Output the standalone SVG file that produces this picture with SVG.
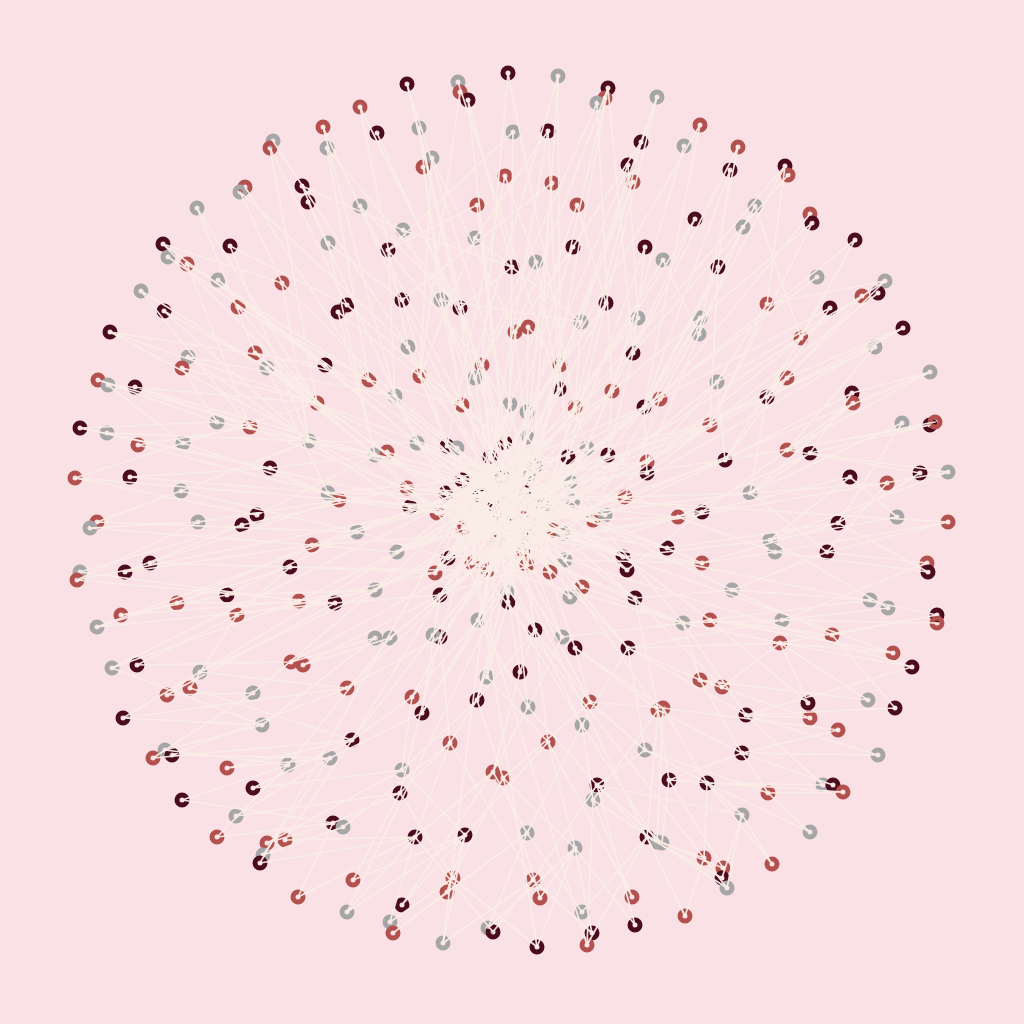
<svg xmlns="http://www.w3.org/2000/svg" width="1024" height="1024" viewBox="0 0 1024 1024">
<style>
circle{fill:none;stroke-width:5}
.d{stroke:#4b0c1d}
.r{stroke:#b3514f}
.g{stroke:#a6a6a6}
#edges path{fill:none;stroke:#faede7;stroke-width:1.7;stroke-opacity:0.95;stroke-linecap:round}
</style>
<rect width="1024" height="1024" fill="#fae1e6"/>
<g id="nodes">
<g id="n1"><circle class="d" cx="508" cy="73" r="5"/></g>
<g id="n2"><circle class="g" cx="558" cy="76" r="5"/></g>
<g id="n3"><circle class="d" cx="407" cy="84" r="5"/></g>
<g id="n4"><circle class="g" cx="458" cy="82" r="5"/></g>
<g id="n5"><circle class="r" cx="460" cy="92" r="5"/></g>
<g id="n6"><circle class="d" cx="468" cy="100" r="5"/></g>
<g id="n7"><circle class="d" cx="608" cy="88" r="5"/></g>
<g id="n8"><circle class="r" cx="605" cy="98" r="5"/></g>
<g id="n9"><circle class="g" cx="597" cy="103" r="5"/></g>
<g id="n10"><circle class="g" cx="657" cy="97" r="5"/></g>
<g id="n11"><circle class="r" cx="360" cy="107" r="5"/></g>
<g id="n12"><circle class="r" cx="700" cy="125" r="5"/></g>
<g id="n13"><circle class="r" cx="323" cy="127" r="5"/></g>
<g id="n14"><circle class="d" cx="377" cy="133" r="5"/></g>
<g id="n15"><circle class="g" cx="419" cy="128" r="5"/></g>
<g id="n16"><circle class="g" cx="513" cy="132" r="5"/></g>
<g id="n17"><circle class="d" cx="548" cy="131" r="5"/></g>
<g id="n18"><circle class="r" cx="738" cy="147" r="5"/></g>
<g id="n19"><circle class="d" cx="641" cy="142" r="5"/></g>
<g id="n20"><circle class="g" cx="684" cy="146" r="5"/></g>
<g id="n21"><circle class="g" cx="273" cy="141" r="5"/></g>
<g id="n22"><circle class="r" cx="270" cy="148" r="5"/></g>
<g id="n23"><circle class="g" cx="327" cy="148" r="5"/></g>
<g id="n24"><circle class="g" cx="432" cy="158" r="5"/></g>
<g id="n25"><circle class="r" cx="423" cy="167" r="5"/></g>
<g id="n26"><circle class="d" cx="628" cy="165" r="5"/></g>
<g id="n27"><circle class="r" cx="633" cy="182" r="5"/></g>
<g id="n28"><circle class="r" cx="505" cy="176" r="5"/></g>
<g id="n29"><circle class="r" cx="552" cy="183" r="5"/></g>
<g id="n30"><circle class="d" cx="730" cy="170" r="5"/></g>
<g id="n31"><circle class="d" cx="785" cy="166" r="5"/></g>
<g id="n32"><circle class="r" cx="788" cy="175" r="5"/></g>
<g id="n33"><circle class="d" cx="302" cy="186" r="5"/></g>
<g id="n34"><circle class="r" cx="245" cy="187" r="5"/></g>
<g id="n35"><circle class="g" cx="240" cy="192" r="5"/></g>
<g id="n36"><circle class="d" cx="308" cy="202" r="5"/></g>
<g id="n37"><circle class="g" cx="197" cy="208" r="5"/></g>
<g id="n38"><circle class="g" cx="360" cy="206" r="5"/></g>
<g id="n39"><circle class="r" cx="477" cy="205" r="5"/></g>
<g id="n40"><circle class="r" cx="577" cy="205" r="5"/></g>
<g id="n41"><circle class="d" cx="695" cy="219" r="5"/></g>
<g id="n42"><circle class="g" cx="755" cy="206" r="5"/></g>
<g id="n43"><circle class="r" cx="810" cy="214" r="5"/></g>
<g id="n44"><circle class="d" cx="812" cy="223" r="5"/></g>
<g id="n45"><circle class="g" cx="743" cy="227" r="5"/></g>
<g id="n46"><circle class="g" cx="403" cy="230" r="5"/></g>
<g id="n47"><circle class="g" cx="475" cy="238" r="5"/></g>
<g id="n48"><circle class="g" cx="328" cy="243" r="5"/></g>
<g id="n49"><circle class="d" cx="163" cy="244" r="5"/></g>
<g id="n50"><circle class="d" cx="230" cy="246" r="5"/></g>
<g id="n51"><circle class="g" cx="168" cy="257" r="5"/></g>
<g id="n52"><circle class="r" cx="187" cy="264" r="5"/></g>
<g id="n53"><circle class="d" cx="388" cy="250" r="5"/></g>
<g id="n54"><circle class="d" cx="573" cy="247" r="5"/></g>
<g id="n55"><circle class="d" cx="645" cy="247" r="5"/></g>
<g id="n56"><circle class="d" cx="855" cy="240" r="5"/></g>
<g id="n57"><circle class="d" cx="512" cy="267" r="5"/></g>
<g id="n58"><circle class="g" cx="536" cy="262" r="5"/></g>
<g id="n59"><circle class="g" cx="663" cy="260" r="5"/></g>
<g id="n60"><circle class="d" cx="718" cy="267" r="5"/></g>
<g id="n61"><circle class="g" cx="218" cy="280" r="5"/></g>
<g id="n62"><circle class="r" cx="282" cy="283" r="5"/></g>
<g id="n63"><circle class="g" cx="885" cy="281" r="5"/></g>
<g id="n64"><circle class="g" cx="817" cy="277" r="5"/></g>
<g id="n65"><circle class="g" cx="141" cy="291" r="5"/></g>
<g id="n66"><circle class="r" cx="862" cy="296" r="5"/></g>
<g id="n67"><circle class="d" cx="878" cy="293" r="5"/></g>
<g id="n68"><circle class="d" cx="402" cy="300" r="5"/></g>
<g id="n69"><circle class="g" cx="441" cy="300" r="5"/></g>
<g id="n70"><circle class="d" cx="460" cy="308" r="5"/></g>
<g id="n71"><circle class="d" cx="606" cy="303" r="5"/></g>
<g id="n72"><circle class="g" cx="638" cy="318" r="5"/></g>
<g id="n73"><circle class="g" cx="700" cy="318" r="5"/></g>
<g id="n74"><circle class="g" cx="699" cy="334" r="5"/></g>
<g id="n75"><circle class="r" cx="767" cy="304" r="5"/></g>
<g id="n76"><circle class="d" cx="830" cy="308" r="5"/></g>
<g id="n77"><circle class="d" cx="347" cy="305" r="5"/></g>
<g id="n78"><circle class="d" cx="338" cy="312" r="5"/></g>
<g id="n79"><circle class="r" cx="238" cy="307" r="5"/></g>
<g id="n80"><circle class="d" cx="164" cy="311" r="5"/></g>
<g id="n81"><circle class="r" cx="515" cy="332" r="5"/></g>
<g id="n82"><circle class="r" cx="528" cy="327" r="5"/></g>
<g id="n83"><circle class="g" cx="581" cy="322" r="5"/></g>
<g id="n84"><circle class="d" cx="110" cy="332" r="5"/></g>
<g id="n85"><circle class="d" cx="903" cy="328" r="5"/></g>
<g id="n86"><circle class="r" cx="801" cy="338" r="5"/></g>
<g id="n87"><circle class="g" cx="875" cy="347" r="5"/></g>
<g id="n88"><circle class="g" cx="408" cy="347" r="5"/></g>
<g id="n89"><circle class="d" cx="633" cy="353" r="5"/></g>
<g id="n90"><circle class="r" cx="255" cy="353" r="5"/></g>
<g id="n91"><circle class="g" cx="188" cy="357" r="5"/></g>
<g id="n92"><circle class="r" cx="182" cy="368" r="5"/></g>
<g id="n93"><circle class="d" cx="325" cy="365" r="5"/></g>
<g id="n94"><circle class="g" cx="267" cy="368" r="5"/></g>
<g id="n95"><circle class="r" cx="369" cy="380" r="5"/></g>
<g id="n96"><circle class="r" cx="420" cy="376" r="5"/></g>
<g id="n97"><circle class="r" cx="482" cy="365" r="5"/></g>
<g id="n98"><circle class="g" cx="475" cy="378" r="5"/></g>
<g id="n99"><circle class="r" cx="560" cy="365" r="5"/></g>
<g id="n100"><circle class="g" cx="717" cy="382" r="5"/></g>
<g id="n101"><circle class="r" cx="787" cy="378" r="5"/></g>
<g id="n102"><circle class="g" cx="930" cy="372" r="5"/></g>
<g id="n103"><circle class="d" cx="559" cy="389" r="5"/></g>
<g id="n104"><circle class="r" cx="612" cy="391" r="5"/></g>
<g id="n105"><circle class="r" cx="317" cy="403" r="5"/></g>
<g id="n106"><circle class="g" cx="395" cy="396" r="5"/></g>
<g id="n107"><circle class="r" cx="462" cy="405" r="5"/></g>
<g id="n108"><circle class="g" cx="510" cy="404" r="5"/></g>
<g id="n109"><circle class="g" cx="527" cy="412" r="5"/></g>
<g id="n110"><circle class="r" cx="575" cy="407" r="5"/></g>
<g id="n111"><circle class="d" cx="644" cy="407" r="5"/></g>
<g id="n112"><circle class="r" cx="660" cy="399" r="5"/></g>
<g id="n113"><circle class="d" cx="767" cy="397" r="5"/></g>
<g id="n114"><circle class="d" cx="852" cy="393" r="5"/></g>
<g id="n115"><circle class="r" cx="853" cy="403" r="5"/></g>
<g id="n116"><circle class="r" cx="98" cy="380" r="5"/></g>
<g id="n117"><circle class="g" cx="108" cy="385" r="5"/></g>
<g id="n118"><circle class="d" cx="135" cy="387" r="5"/></g>
<g id="n119"><circle class="d" cx="80" cy="428" r="5"/></g>
<g id="n120"><circle class="g" cx="107" cy="433" r="5"/></g>
<g id="n121"><circle class="r" cx="138" cy="445" r="5"/></g>
<g id="n122"><circle class="g" cx="183" cy="443" r="5"/></g>
<g id="n123"><circle class="g" cx="217" cy="422" r="5"/></g>
<g id="n124"><circle class="r" cx="250" cy="427" r="5"/></g>
<g id="n125"><circle class="g" cx="309" cy="441" r="5"/></g>
<g id="n126"><circle class="d" cx="270" cy="468" r="5"/></g>
<g id="n127"><circle class="r" cx="75" cy="478" r="5"/></g>
<g id="n128"><circle class="d" cx="130" cy="477" r="5"/></g>
<g id="n129"><circle class="g" cx="181" cy="491" r="5"/></g>
<g id="n130"><circle class="g" cx="328" cy="493" r="5"/></g>
<g id="n131"><circle class="r" cx="339" cy="500" r="5"/></g>
<g id="n132"><circle class="r" cx="97" cy="522" r="5"/></g>
<g id="n133"><circle class="g" cx="90" cy="528" r="5"/></g>
<g id="n134"><circle class="g" cx="198" cy="522" r="5"/></g>
<g id="n135"><circle class="d" cx="242" cy="525" r="5"/></g>
<g id="n136"><circle class="d" cx="257" cy="515" r="5"/></g>
<g id="n137"><circle class="g" cx="357" cy="532" r="5"/></g>
<g id="n138"><circle class="r" cx="312" cy="545" r="5"/></g>
<g id="n139"><circle class="d" cx="125" cy="572" r="5"/></g>
<g id="n140"><circle class="d" cx="150" cy="563" r="5"/></g>
<g id="n141"><circle class="g" cx="80" cy="572" r="5"/></g>
<g id="n142"><circle class="r" cx="77" cy="580" r="5"/></g>
<g id="n143"><circle class="d" cx="290" cy="567" r="5"/></g>
<g id="n144"><circle class="d" cx="227" cy="595" r="5"/></g>
<g id="n145"><circle class="r" cx="177" cy="603" r="5"/></g>
<g id="n146"><circle class="r" cx="237" cy="615" r="5"/></g>
<g id="n147"><circle class="r" cx="299" cy="601" r="5"/></g>
<g id="n148"><circle class="d" cx="335" cy="603" r="5"/></g>
<g id="n149"><circle class="r" cx="121" cy="615" r="5"/></g>
<g id="n150"><circle class="g" cx="97" cy="627" r="5"/></g>
<g id="n151"><circle class="g" cx="417" cy="443" r="5"/></g>
<g id="n152"><circle class="d" cx="447" cy="446" r="5"/></g>
<g id="n153"><circle class="g" cx="457" cy="448" r="5"/></g>
<g id="n154"><circle class="d" cx="505" cy="443" r="5"/></g>
<g id="n155"><circle class="g" cx="527" cy="437" r="5"/></g>
<g id="n156"><circle class="g" cx="375" cy="455" r="5"/></g>
<g id="n157"><circle class="r" cx="387" cy="452" r="5"/></g>
<g id="n158"><circle class="d" cx="490" cy="457" r="5"/></g>
<g id="n159"><circle class="d" cx="568" cy="457" r="5"/></g>
<g id="n160"><circle class="g" cx="587" cy="448" r="5"/></g>
<g id="n161"><circle class="d" cx="608" cy="455" r="5"/></g>
<g id="n162"><circle class="r" cx="647" cy="462" r="5"/></g>
<g id="n163"><circle class="d" cx="647" cy="473" r="5"/></g>
<g id="n164"><circle class="g" cx="535" cy="466" r="5"/></g>
<g id="n165"><circle class="g" cx="528" cy="475" r="5"/></g>
<g id="n166"><circle class="g" cx="570" cy="482" r="5"/></g>
<g id="n167"><circle class="g" cx="573" cy="500" r="5"/></g>
<g id="n168"><circle class="d" cx="462" cy="480" r="5"/></g>
<g id="n169"><circle class="d" cx="502" cy="477" r="5"/></g>
<g id="n170"><circle class="d" cx="446" cy="493" r="5"/></g>
<g id="n171"><circle class="d" cx="480" cy="495" r="5"/></g>
<g id="n172"><circle class="r" cx="407" cy="488" r="5"/></g>
<g id="n173"><circle class="d" cx="410" cy="507" r="5"/></g>
<g id="n174"><circle class="r" cx="437" cy="513" r="5"/></g>
<g id="n175"><circle class="r" cx="463" cy="528" r="5"/></g>
<g id="n176"><circle class="d" cx="495" cy="505" r="5"/></g>
<g id="n177"><circle class="r" cx="507" cy="500" r="5"/></g>
<g id="n178"><circle class="d" cx="515" cy="515" r="5"/></g>
<g id="n179"><circle class="r" cx="521" cy="508" r="5"/></g>
<g id="n180"><circle class="g" cx="530" cy="523" r="5"/></g>
<g id="n181"><circle class="d" cx="525" cy="490" r="5"/></g>
<g id="n182"><circle class="r" cx="500" cy="520" r="5"/></g>
<g id="n183"><circle class="g" cx="543" cy="505" r="5"/></g>
<g id="n184"><circle class="r" cx="593" cy="520" r="5"/></g>
<g id="n185"><circle class="g" cx="605" cy="515" r="5"/></g>
<g id="n186"><circle class="r" cx="553" cy="530" r="5"/></g>
<g id="n187"><circle class="g" cx="563" cy="533" r="5"/></g>
<g id="n188"><circle class="r" cx="497" cy="540" r="5"/></g>
<g id="n189"><circle class="r" cx="523" cy="535" r="5"/></g>
<g id="n190"><circle class="r" cx="523" cy="550" r="5"/></g>
<g id="n191"><circle class="r" cx="527" cy="565" r="5"/></g>
<g id="n192"><circle class="d" cx="448" cy="558" r="5"/></g>
<g id="n193"><circle class="r" cx="472" cy="563" r="5"/></g>
<g id="n194"><circle class="r" cx="488" cy="570" r="5"/></g>
<g id="n195"><circle class="r" cx="435" cy="573" r="5"/></g>
<g id="n196"><circle class="r" cx="550" cy="572" r="5"/></g>
<g id="n197"><circle class="g" cx="565" cy="560" r="5"/></g>
<g id="n198"><circle class="d" cx="623" cy="557" r="5"/></g>
<g id="n199"><circle class="d" cx="627" cy="570" r="5"/></g>
<g id="n200"><circle class="g" cx="397" cy="552" r="5"/></g>
<g id="n201"><circle class="g" cx="375" cy="590" r="5"/></g>
<g id="n202"><circle class="d" cx="440" cy="595" r="5"/></g>
<g id="n203"><circle class="g" cx="507" cy="592" r="5"/></g>
<g id="n204"><circle class="d" cx="508" cy="602" r="5"/></g>
<g id="n205"><circle class="r" cx="582" cy="587" r="5"/></g>
<g id="n206"><circle class="g" cx="570" cy="597" r="5"/></g>
<g id="n207"><circle class="d" cx="635" cy="598" r="5"/></g>
<g id="n208"><circle class="g" cx="478" cy="620" r="5"/></g>
<g id="n209"><circle class="g" cx="375" cy="638" r="5"/></g>
<g id="n210"><circle class="g" cx="390" cy="638" r="5"/></g>
<g id="n211"><circle class="d" cx="440" cy="637" r="5"/></g>
<g id="n212"><circle class="g" cx="433" cy="635" r="5"/></g>
<g id="n213"><circle class="d" cx="535" cy="630" r="5"/></g>
<g id="n214"><circle class="g" cx="562" cy="637" r="5"/></g>
<g id="n215"><circle class="d" cx="575" cy="648" r="5"/></g>
<g id="n216"><circle class="d" cx="628" cy="648" r="5"/></g>
<g id="n217"><circle class="r" cx="625" cy="497" r="5"/></g>
<g id="n218"><circle class="r" cx="710" cy="425" r="5"/></g>
<g id="n219"><circle class="g" cx="902" cy="423" r="5"/></g>
<g id="n220"><circle class="d" cx="930" cy="425" r="5"/></g>
<g id="n221"><circle class="r" cx="935" cy="422" r="5"/></g>
<g id="n222"><circle class="r" cx="787" cy="450" r="5"/></g>
<g id="n223"><circle class="d" cx="810" cy="453" r="5"/></g>
<g id="n224"><circle class="d" cx="725" cy="460" r="5"/></g>
<g id="n225"><circle class="d" cx="850" cy="477" r="5"/></g>
<g id="n226"><circle class="r" cx="887" cy="483" r="5"/></g>
<g id="n227"><circle class="d" cx="920" cy="473" r="5"/></g>
<g id="n228"><circle class="g" cx="948" cy="472" r="5"/></g>
<g id="n229"><circle class="g" cx="750" cy="493" r="5"/></g>
<g id="n230"><circle class="r" cx="678" cy="517" r="5"/></g>
<g id="n231"><circle class="d" cx="702" cy="512" r="5"/></g>
<g id="n232"><circle class="g" cx="897" cy="517" r="5"/></g>
<g id="n233"><circle class="d" cx="838" cy="523" r="5"/></g>
<g id="n234"><circle class="r" cx="948" cy="522" r="5"/></g>
<g id="n235"><circle class="d" cx="667" cy="548" r="5"/></g>
<g id="n236"><circle class="g" cx="770" cy="540" r="5"/></g>
<g id="n237"><circle class="g" cx="775" cy="552" r="5"/></g>
<g id="n238"><circle class="d" cx="827" cy="552" r="5"/></g>
<g id="n239"><circle class="r" cx="702" cy="563" r="5"/></g>
<g id="n240"><circle class="r" cx="927" cy="563" r="5"/></g>
<g id="n241"><circle class="d" cx="928" cy="572" r="5"/></g>
<g id="n242"><circle class="g" cx="732" cy="590" r="5"/></g>
<g id="n243"><circle class="g" cx="870" cy="600" r="5"/></g>
<g id="n244"><circle class="g" cx="888" cy="608" r="5"/></g>
<g id="n245"><circle class="g" cx="683" cy="623" r="5"/></g>
<g id="n246"><circle class="r" cx="710" cy="620" r="5"/></g>
<g id="n247"><circle class="g" cx="782" cy="620" r="5"/></g>
<g id="n248"><circle class="d" cx="937" cy="615" r="5"/></g>
<g id="n249"><circle class="r" cx="937" cy="623" r="5"/></g>
<g id="n250"><circle class="r" cx="832" cy="635" r="5"/></g>
<g id="n251"><circle class="r" cx="780" cy="643" r="5"/></g>
<g id="n252"><circle class="r" cx="893" cy="653" r="5"/></g>
<g id="n253"><circle class="g" cx="112" cy="668" r="5"/></g>
<g id="n254"><circle class="d" cx="137" cy="665" r="5"/></g>
<g id="n255"><circle class="g" cx="200" cy="672" r="5"/></g>
<g id="n256"><circle class="r" cx="190" cy="688" r="5"/></g>
<g id="n257"><circle class="r" cx="167" cy="695" r="5"/></g>
<g id="n258"><circle class="r" cx="291" cy="662" r="5"/></g>
<g id="n259"><circle class="r" cx="303" cy="665" r="5"/></g>
<g id="n260"><circle class="g" cx="253" cy="693" r="5"/></g>
<g id="n261"><circle class="r" cx="347" cy="688" r="5"/></g>
<g id="n262"><circle class="d" cx="123" cy="718" r="5"/></g>
<g id="n263"><circle class="g" cx="262" cy="725" r="5"/></g>
<g id="n264"><circle class="d" cx="352" cy="740" r="5"/></g>
<g id="n265"><circle class="g" cx="165" cy="750" r="5"/></g>
<g id="n266"><circle class="d" cx="172" cy="755" r="5"/></g>
<g id="n267"><circle class="r" cx="153" cy="758" r="5"/></g>
<g id="n268"><circle class="r" cx="227" cy="768" r="5"/></g>
<g id="n269"><circle class="g" cx="288" cy="765" r="5"/></g>
<g id="n270"><circle class="g" cx="330" cy="758" r="5"/></g>
<g id="n271"><circle class="d" cx="253" cy="788" r="5"/></g>
<g id="n272"><circle class="d" cx="182" cy="800" r="5"/></g>
<g id="n273"><circle class="g" cx="236" cy="816" r="5"/></g>
<g id="n274"><circle class="r" cx="217" cy="837" r="5"/></g>
<g id="n275"><circle class="d" cx="333" cy="823" r="5"/></g>
<g id="n276"><circle class="g" cx="343" cy="827" r="5"/></g>
<g id="n277"><circle class="r" cx="267" cy="843" r="5"/></g>
<g id="n278"><circle class="r" cx="285" cy="840" r="5"/></g>
<g id="n279"><circle class="g" cx="263" cy="855" r="5"/></g>
<g id="n280"><circle class="d" cx="260" cy="863" r="5"/></g>
<g id="n281"><circle class="r" cx="353" cy="880" r="5"/></g>
<g id="n282"><circle class="r" cx="298" cy="897" r="5"/></g>
<g id="n283"><circle class="g" cx="347" cy="912" r="5"/></g>
<g id="n284"><circle class="g" cx="487" cy="677" r="5"/></g>
<g id="n285"><circle class="d" cx="520" cy="672" r="5"/></g>
<g id="n286"><circle class="r" cx="412" cy="697" r="5"/></g>
<g id="n287"><circle class="d" cx="422" cy="713" r="5"/></g>
<g id="n288"><circle class="d" cx="477" cy="700" r="5"/></g>
<g id="n289"><circle class="g" cx="528" cy="707" r="5"/></g>
<g id="n290"><circle class="r" cx="590" cy="702" r="5"/></g>
<g id="n291"><circle class="g" cx="582" cy="725" r="5"/></g>
<g id="n292"><circle class="r" cx="658" cy="710" r="5"/></g>
<g id="n293"><circle class="r" cx="450" cy="743" r="5"/></g>
<g id="n294"><circle class="r" cx="548" cy="742" r="5"/></g>
<g id="n295"><circle class="g" cx="645" cy="750" r="5"/></g>
<g id="n296"><circle class="g" cx="402" cy="770" r="5"/></g>
<g id="n297"><circle class="d" cx="400" cy="793" r="5"/></g>
<g id="n298"><circle class="r" cx="493" cy="772" r="5"/></g>
<g id="n299"><circle class="r" cx="503" cy="778" r="5"/></g>
<g id="n300"><circle class="d" cx="597" cy="785" r="5"/></g>
<g id="n301"><circle class="g" cx="593" cy="800" r="5"/></g>
<g id="n302"><circle class="d" cx="415" cy="837" r="5"/></g>
<g id="n303"><circle class="d" cx="465" cy="835" r="5"/></g>
<g id="n304"><circle class="g" cx="527" cy="833" r="5"/></g>
<g id="n305"><circle class="g" cx="575" cy="848" r="5"/></g>
<g id="n306"><circle class="d" cx="647" cy="837" r="5"/></g>
<g id="n307"><circle class="g" cx="657" cy="842" r="5"/></g>
<g id="n308"><circle class="r" cx="453" cy="878" r="5"/></g>
<g id="n309"><circle class="r" cx="447" cy="892" r="5"/></g>
<g id="n310"><circle class="r" cx="533" cy="880" r="5"/></g>
<g id="n311"><circle class="r" cx="540" cy="898" r="5"/></g>
<g id="n312"><circle class="r" cx="632" cy="897" r="5"/></g>
<g id="n313"><circle class="d" cx="402" cy="905" r="5"/></g>
<g id="n314"><circle class="g" cx="390" cy="922" r="5"/></g>
<g id="n315"><circle class="r" cx="393" cy="933" r="5"/></g>
<g id="n316"><circle class="g" cx="443" cy="943" r="5"/></g>
<g id="n317"><circle class="g" cx="488" cy="928" r="5"/></g>
<g id="n318"><circle class="d" cx="493" cy="932" r="5"/></g>
<g id="n319"><circle class="d" cx="537" cy="947" r="5"/></g>
<g id="n320"><circle class="g" cx="582" cy="912" r="5"/></g>
<g id="n321"><circle class="d" cx="592" cy="933" r="5"/></g>
<g id="n322"><circle class="r" cx="587" cy="945" r="5"/></g>
<g id="n323"><circle class="d" cx="635" cy="925" r="5"/></g>
<g id="n324"><circle class="r" cx="700" cy="680" r="5"/></g>
<g id="n325"><circle class="r" cx="722" cy="687" r="5"/></g>
<g id="n326"><circle class="d" cx="912" cy="667" r="5"/></g>
<g id="n327"><circle class="r" cx="663" cy="708" r="5"/></g>
<g id="n328"><circle class="d" cx="746" cy="715" r="5"/></g>
<g id="n329"><circle class="d" cx="808" cy="703" r="5"/></g>
<g id="n330"><circle class="r" cx="810" cy="718" r="5"/></g>
<g id="n331"><circle class="r" cx="838" cy="730" r="5"/></g>
<g id="n332"><circle class="g" cx="868" cy="700" r="5"/></g>
<g id="n333"><circle class="d" cx="895" cy="708" r="5"/></g>
<g id="n334"><circle class="d" cx="742" cy="753" r="5"/></g>
<g id="n335"><circle class="g" cx="878" cy="755" r="5"/></g>
<g id="n336"><circle class="d" cx="669" cy="780" r="5"/></g>
<g id="n337"><circle class="d" cx="707" cy="783" r="5"/></g>
<g id="n338"><circle class="r" cx="768" cy="793" r="5"/></g>
<g id="n339"><circle class="g" cx="823" cy="785" r="5"/></g>
<g id="n340"><circle class="d" cx="833" cy="785" r="5"/></g>
<g id="n341"><circle class="r" cx="843" cy="792" r="5"/></g>
<g id="n342"><circle class="g" cx="742" cy="815" r="5"/></g>
<g id="n343"><circle class="g" cx="810" cy="832" r="5"/></g>
<g id="n344"><circle class="g" cx="662" cy="843" r="5"/></g>
<g id="n345"><circle class="r" cx="704" cy="858" r="5"/></g>
<g id="n346"><circle class="r" cx="723" cy="868" r="5"/></g>
<g id="n347"><circle class="d" cx="722" cy="878" r="5"/></g>
<g id="n348"><circle class="g" cx="727" cy="888" r="5"/></g>
<g id="n349"><circle class="r" cx="772" cy="864" r="5"/></g>
<g id="n350"><circle class="r" cx="685" cy="916" r="5"/></g>
</g>
<g id="edges">
<path d="M508 73L482 365M508 73L575 407M558 76L462 405M558 76L560 365M407 84L510 404M407 84L460 308M458 82L559 389M460 92L420 376M468 100L512 267M468 100L505 443M608 88L515 332M608 88L633 353M605 98L527 437M597 103L475 378M597 103L612 391M657 97L606 303M657 97L581 322M360 107L408 347M360 107L460 308M700 125L560 365M700 125L644 407M323 127L402 300M323 127L395 396M377 133L482 365M419 128L441 300M419 128L475 378M513 132L388 250M513 132L510 404M548 131L559 389M548 131L475 238M738 147L633 353M738 147L699 334M641 142L575 407M641 142L573 247M684 146L612 391M273 141L408 347M270 148L317 403M270 148L347 305M327 148L460 308M327 148L369 380M432 158L420 376M432 158L515 332M423 167L462 405M628 165L527 412M628 165L638 318M633 182L560 365M505 176L447 446M505 176L536 262M552 183L527 437M552 183L402 300M730 170L644 407M730 170L718 267M785 166L660 399M785 166L767 304M788 175L633 353M302 186L395 396M302 186L403 230M245 187L369 380M240 192L408 347M240 192L282 283M308 202L417 443M197 208L317 403M197 208L255 353M360 206L462 405M360 206L460 308M477 205L505 443M477 205L388 250M577 205L510 404M577 205L606 303M695 219L575 407M695 219L612 391M755 206L644 407M755 206L801 338M810 214L660 399M812 223L710 425M812 223L700 318M743 227L647 462M403 230L475 378M403 230L512 267M475 238L420 376M475 238L581 322M328 243L375 455M328 243L402 300M163 244L317 403M163 244L282 283M230 246L309 441M230 246L347 305M168 257L325 365M187 264L369 380M187 264L250 427M388 250L482 365M388 250L395 396M573 247L505 443M573 247L515 332M645 247L568 457M645 247L633 353M855 240L767 397M855 240L801 338M512 267L510 404M512 267L460 308M536 262L559 389M536 262L482 365M663 260L575 407M663 260L699 334M718 267L710 425M718 267L644 407M218 280L417 443M218 280L325 365M282 283L395 396M282 283L309 441M885 281L767 397M885 281L767 304M817 277L644 407M141 291L250 427M141 291L267 368M862 296L787 378M862 296L717 382M878 293L710 425M402 300L447 446M441 300L462 405M441 300L581 322M460 308L505 443M606 303L527 412M606 303L568 457M638 318L587 448M700 318L644 407M700 318L612 391M699 334L647 462M767 304L710 425M767 304L717 382M830 308L767 397M830 308L660 399M347 305L462 405M338 312L420 376M338 312L375 455M238 307L317 403M238 307L369 380M164 311L309 441M164 311L267 368M515 332L527 437M528 327L527 412M528 327L560 365M581 322L575 407M110 332L317 403M110 332L325 365M903 328L767 397M903 328L787 378M801 338L725 460M875 347L787 450M875 347L767 397M408 347L447 446M633 353L608 455M255 353L375 455M255 353L369 380M188 357L309 441M188 357L395 396M182 368L317 403M182 368L217 422M325 365L417 443M267 368L375 455M267 368L328 493M369 380L462 405M420 376L462 480M482 365L535 466M482 365L490 457M475 378L505 443M560 365L535 466M560 365L568 457M717 382L647 462M717 382L725 460M787 378L725 460M787 378L710 425M930 372L787 450M930 372L852 393M559 389L528 475M612 391L570 482M612 391L608 455M317 403L407 488M395 396L446 493M395 396L417 443M462 405L502 477M510 404L525 490M510 404L490 457M527 412L495 505M575 407L543 505M575 407L587 448M644 407L573 500M644 407L647 473M660 399L625 497M767 397L750 493M767 397L647 462M852 393L810 453M852 393L725 460M853 403L750 493M853 403L787 450"/>
<path d="M98 380L309 441M98 380L217 422M108 385L183 443M108 385L317 403M135 387L250 427M135 387L375 455M80 428L270 468M80 428L217 422M107 433L309 441M138 445L328 493M138 445L250 427M183 443L328 493M183 443L317 403M217 422L375 455M250 427L407 488M309 441L410 507M309 441L417 443M270 468L339 500M270 468L375 455M75 478L257 515M75 478L183 443M130 477L328 493M130 477L270 468M181 491L357 532M181 491L309 441M328 493L410 507M339 500L437 513M97 522L357 532M97 522L181 491M90 528L312 545M90 528L198 522M198 522L339 500M242 525L407 488M257 515L375 455M357 532L448 558M312 545L397 552M125 572L312 545M125 572L242 525M150 563L290 567M150 563L339 500M80 572L242 525M80 572L299 601M77 580L335 603M77 580L198 522M290 567L435 573M227 595L357 532M227 595L375 590M177 603L335 603M177 603L312 545M237 615L375 590M237 615L290 567M299 601L397 552M299 601L435 573M335 603L440 595M121 615L299 601M121 615L227 595M97 627L290 567M97 627L335 603"/>
<path d="M417 443L495 505M457 448L515 515M527 437L495 505M375 455L437 513M490 457L521 508M587 448L515 515M647 462L543 505M535 466L500 520M570 482L495 505M462 480L515 515M446 493L521 508M407 488L507 500M437 513L515 515M593 520L495 505M553 530L495 505M497 540L521 508M523 550L507 500M448 558L515 515M488 570L507 500M550 572L495 505M623 557L530 523M397 552L521 508M440 595L507 500M508 602L521 508M570 597L525 490M478 620L521 508M390 638L530 523M433 635L543 505M562 637L495 505M628 648L515 515"/>
<path d="M710 425L573 500M710 425L647 473M902 423L750 493M902 423L838 523M930 425L725 460M930 425L810 453M935 422L787 450M787 450L702 512M810 453L678 517M810 453L750 493M725 460L605 515M850 477L702 512M850 477L770 540M887 483L750 493M887 483L827 552M920 473L787 450M920 473L838 523M948 472L770 540M948 472L810 453M750 493L625 497M678 517L593 520M702 512L627 570M897 517L770 540M897 517L850 477M838 523L667 548M838 523L702 563M948 522L775 552M948 522L827 552M667 548L553 530M770 540L623 557M775 552L702 563M775 552L678 517M827 552L732 590M827 552L750 493M702 563L565 560M927 563L827 552M927 563L782 620M928 572L775 552M928 572L838 523M732 590L635 598M870 600L732 590M870 600L710 620M888 608L782 620M888 608L770 540M683 623L582 587M710 620L562 637M782 620L683 623M782 620L628 648M937 615L832 635M937 615L780 643M937 623L782 620M832 635L710 620M832 635L732 590M780 643L683 623M780 643L628 648M893 653L780 643M893 653L710 620"/>
<path d="M112 668L262 725M112 668L299 601M137 665L291 662M137 665L237 615M200 672L375 590M200 672L347 688M190 688L352 740M190 688L237 615M167 695L253 693M167 695L335 603M291 662L375 638M303 665L440 595M303 665L390 638M253 693L375 590M347 688L440 637M123 718L347 688M123 718L262 725M262 725L375 638M352 740L433 635M352 740L412 697M165 750L288 765M165 750L262 725M172 755L330 758M172 755L347 688M153 758L352 740M153 758L253 693M227 768L330 758M227 768L352 740M288 765L390 638M330 758L422 713M253 788L352 740M253 788L402 770M182 800L288 765M182 800L333 823M236 816L330 758M236 816L400 793M217 837L333 823M217 837L288 765M333 823L400 793M343 827L450 743M267 843L333 823M267 843L402 770M285 840L352 740M285 840L415 837M263 855L343 827M263 855L330 758M260 863L415 837M353 880L400 793M353 880L465 835M298 897L415 837M298 897L333 823M347 912L465 835M347 912L415 837"/>
<path d="M487 677L508 602M487 677L497 540M520 672L507 592M520 672L535 630M412 697L478 620M422 713L440 595M422 713L478 620M477 700L535 630M477 700L508 602M528 707L562 637M528 707L478 620M590 702L575 648M590 702L535 630M582 725L628 648M582 725L508 602M658 710L575 648M658 710L635 598M450 743L477 700M450 743L440 637M548 742L535 630M548 742L487 677M645 750L628 648M645 750L590 702M402 770L412 697M402 770L477 700M400 793L450 743M400 793L440 637M493 772L520 672M493 772L528 707M503 778L477 700M503 778L590 702M597 785L528 707M597 785L645 750M593 800L582 725M593 800L658 710M415 837L450 743M415 837L493 772M465 835L548 742M465 835L402 770M527 833L493 772M527 833L582 725M575 848L548 742M575 848L503 778M647 837L597 785M647 837L658 710M657 842L582 725M657 842L663 708M453 878L503 778M453 878L400 793M447 892L527 833M447 892L465 835M533 880L597 785M533 880L450 743M540 898L575 848M540 898L503 778M632 897L593 800M632 897L548 742M402 905L465 835M402 905L493 772M390 922L415 837M390 922L453 878M393 933L447 892M393 933L527 833M443 943L533 880M443 943L465 835M488 928L527 833M488 928L575 848M493 932L533 880M493 932L415 837M537 947L575 848M537 947L453 878M582 912L647 837M582 912L527 833M592 933L575 848M592 933L533 880M587 945L647 837M587 945L593 800M635 925L575 848M635 925L597 785"/>
<path d="M700 680L628 648M700 680L683 623M722 687L635 598M722 687L780 643M912 667L780 643M912 667L746 715M663 708L575 648M663 708L590 702M746 715L683 623M746 715L628 648M808 703L710 620M808 703L780 643M810 718L746 715M810 718L700 680M838 730L663 708M838 730L742 753M868 700L780 643M868 700L700 680M895 708L746 715M895 708L832 635M742 753L658 710M742 753L700 680M878 755L742 753M878 755L746 715M669 780L658 710M669 780L742 753M707 783L645 750M707 783L663 708M768 793L645 750M768 793L742 753M823 785L707 783M823 785L746 715M833 785L742 753M843 792L669 780M843 792L768 793M742 815L597 785M742 815L707 783M810 832L707 783M810 832L768 793M662 843L597 785M662 843L669 780M704 858L647 837M704 858L707 783M723 868L662 843M723 868L669 780M722 878L647 837M722 878L742 815M727 888L593 800M727 888L742 815M772 864L742 815M772 864L707 783M685 916L647 837M685 916L704 858"/>
<path d="M407 84L523 550M548 131L472 563M163 244L553 530M110 332L497 540M80 428L563 533M75 478L593 520M77 580L570 482M97 627L535 466M112 668L502 477M123 718L528 475M260 863L490 457M347 912L568 457M443 943L505 443M537 947L462 480M587 945L446 493M685 916L480 495M727 888L437 513M912 667L463 528M893 653L446 493M937 615L410 507M948 522L407 488M948 472L448 558M930 372L472 563M903 328L488 570M885 281L497 540M855 240L435 573M785 166L448 558M657 97L488 570M608 88L523 550M558 76L527 565M417 443L623 557M375 455L593 520M407 488L605 515M397 552L608 455M375 590L647 462M478 620L527 437M535 630L505 443M317 403L573 500M328 493L625 497M312 545L553 530M290 567L550 572M767 397L495 505M710 425L437 513M702 563L463 528M683 623L472 563M644 407L446 493M482 365L550 572M559 389L448 558M575 407L440 595M462 405L582 587"/>
<path d="M420 376L565 560M395 396L635 598M462 405L627 570M510 404L440 637M527 412L478 620M559 389L435 573M612 391L397 552M644 407L472 563M660 399L448 558M482 365L508 602M560 365L463 528M575 407L375 590M369 380L553 530M317 403L623 557M309 441L593 520M328 493L647 462M339 500L605 515M357 532L608 455M312 545L587 448M375 455L702 512M387 452L667 548M417 443L702 563M447 446L582 587M457 448L628 648M505 443L535 630M527 437L488 570M490 457L562 637M568 457L440 637M587 448L433 635M608 455L390 638M647 462L437 513M647 473L410 507M535 466L472 563M570 482L375 590M573 500L397 552M462 480L635 598M446 493L678 517M480 495L725 460M407 488L710 425M437 513L683 623M463 528L710 425M593 520L462 405M605 515L420 376M553 530L395 396M497 540L560 365M523 550L482 365M527 565L575 407M448 558L612 391M472 563L644 407M488 570L559 389M435 573L510 404M550 572L462 405M565 560L369 380M623 557L375 455M627 570L417 443M397 552L660 399M440 595L612 391M507 592L527 412M508 602L475 378M582 587L447 446M570 597L407 488M635 598L463 528M478 620L568 457M440 637L587 448M535 630L446 493M562 637L417 443M575 648L505 443M628 648L462 480M702 512L448 558M678 517L440 595M667 548L410 507M725 460L497 540M750 493L463 528M683 623L527 437M710 620L490 457M732 590L502 477M412 697L525 490M422 713L570 482M477 700L535 466M528 707L502 477M590 702L480 495M582 725L462 480M658 710L530 523M352 740L495 505M347 688L543 505M291 662L523 535M402 300L523 550M441 300L527 565M460 308L488 570M515 332L497 540M606 303L472 563M638 318L435 573M581 322L448 558M408 347L550 572M633 353L463 528M700 318L565 560M255 353L497 540M267 368L523 550M801 338L563 533M717 382L488 570"/>
</g>
</svg>
